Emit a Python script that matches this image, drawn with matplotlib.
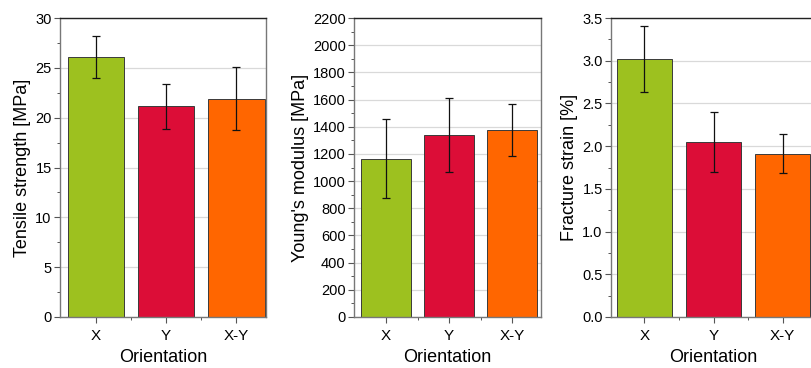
import matplotlib
matplotlib.use("Agg")
import matplotlib.pyplot as plt
from matplotlib.ticker import MultipleLocator, FixedLocator

plt.rcParams['font.family'] = ['Liberation Sans', 'DejaVu Sans']

categories = ["X", "Y", "X-Y"]
colors = ["#9dc11f", "#dc0d37", "#ff6600"]

tensile = [26.05, 21.15, 21.9]
tensile_err = [2.1, 2.24, 3.17]

modulus = [1165, 1337, 1376]
modulus_err = [293, 273, 188]

strain = [3.02, 2.045, 1.912]
strain_err = [0.388, 0.35, 0.225]

panels = [
    dict(vals=tensile, err=tensile_err, ylabel="Tensile strength [MPa]", ymax=30, major=5, minor=2.5,
         rect=[60/811, 1-317/368, 206/811, 299/368], xlim=(0.49, 3.42), fmt="{:.0f}"),
    dict(vals=modulus, err=modulus_err, ylabel="Young's modulus [MPa]", ymax=2200, major=200, minor=100,
         rect=[354/811, 1-317/368, 187/811, 299/368], xlim=(0.49, 3.46), fmt="{:.0f}"),
    dict(vals=strain, err=strain_err, ylabel="Fracture strain [%]", ymax=3.5, major=0.5, minor=0.25,
         rect=[611/811, 1-317/368, 205/811, 299/368], xlim=(0.515, 3.485), fmt="{:.1f}"),
]

fig = plt.figure(figsize=(8.11, 3.68), dpi=100)
x = [1, 2, 3]
for p in panels:
    ax = fig.add_axes(p["rect"])
    ax.set_axisbelow(True)
    ax.yaxis.grid(True, color="#d9d9d9", linewidth=0.9)
    ax.bar(x, p["vals"], width=0.8, color=colors, edgecolor="#3a3a3a", linewidth=0.7, zorder=2)
    ax.errorbar(x, p["vals"], yerr=p["err"], fmt="none", ecolor="#111111", elinewidth=0.9,
                capsize=3, capthick=0.9, zorder=3)
    ax.set_ylim(0, p["ymax"])
    ax.set_xlim(*p["xlim"])
    ax.yaxis.set_major_locator(MultipleLocator(p["major"]))
    ax.yaxis.set_minor_locator(MultipleLocator(p["minor"]))
    f = p["fmt"]
    ax.yaxis.set_major_formatter(matplotlib.ticker.FuncFormatter(lambda v, pos, f=f: f.format(v)))
    ax.set_xticks(x)
    ax.set_xticklabels(categories)
    ax.xaxis.set_minor_locator(FixedLocator([1.5, 2.5]))
    ax.tick_params(axis="both", which="major", direction="out", length=4, width=0.8,
                   color="#555555", pad=2)
    ax.tick_params(axis="y", which="major", labelsize=10.5)
    ax.tick_params(axis="x", which="major", labelsize=11, pad=5)
    ax.tick_params(axis="both", which="minor", direction="out", length=2.5, width=0.7, color="#555555")
    ax.tick_params(top=False, right=False, which="both")
    for s in ["left", "right", "bottom"]:
        ax.spines[s].set_color("#777777")
        ax.spines[s].set_linewidth(1.0)
    ax.spines["top"].set_color("#222222")
    ax.spines["top"].set_linewidth(1.0)
    ax.set_ylabel(p["ylabel"], fontsize=13, labelpad=3)
    ax.set_xlabel("Orientation", fontsize=13, labelpad=4)

fig.savefig("out.png", dpi=100)
